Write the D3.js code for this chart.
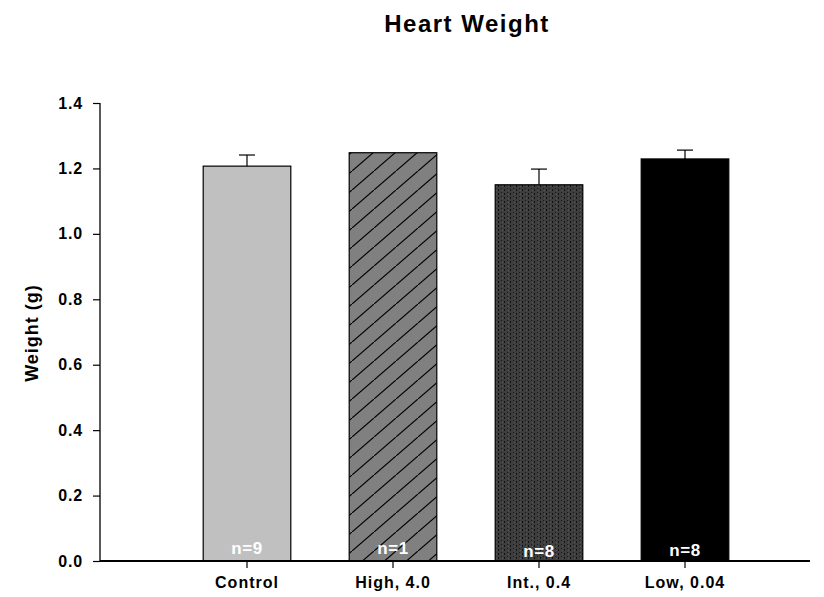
<!DOCTYPE html>
<html>
<head>
<meta charset="utf-8">
<script src="https://cdn.jsdelivr.net/npm/d3@7"></script>
<style>
  body { margin: 0; background: #fff; }
  text { font-family: "Liberation Sans", Arial, sans-serif; font-weight: bold; }
</style>
</head>
<body>
<svg width="824" height="597"></svg>
<script>
// data
let groups = ["Control", "High, 4.0", "Int., 0.4", "Low, 0.04"];
let means = [1.207, 1.248, 1.150, 1.229];
let errs = [0.034, 0, 0.048, 0.027];
let nLabels = ["n=9", "n=1", "n=8", "n=8"];
let yTicks = [0.0, 0.2, 0.4, 0.6, 0.8, 1.0, 1.2, 1.4];

let svg = d3.select("svg");

// patterns for the bar fills
let defs = svg.append("defs");
let hatch = defs.append("pattern")
  .attr("id", "hatch")
  .attr("patternUnits", "userSpaceOnUse")
  .attr("width", 22).attr("height", 19);
hatch.append("rect").attr("width", 22).attr("height", 19).attr("fill", "#808080");
hatch.append("line")
  .attr("x1", -2).attr("y1", 19 + 1.7).attr("x2", 24).attr("y2", -1.7)
  .attr("stroke", "#000").attr("stroke-width", 1.2);

let dots = defs.append("pattern")
  .attr("id", "dots")
  .attr("patternUnits", "userSpaceOnUse")
  .attr("width", 6).attr("height", 4);
dots.append("rect").attr("width", 6).attr("height", 4).attr("fill", "#3e3e3e");
dots.append("rect").attr("x", 0).attr("y", 1).attr("width", 1).attr("height", 2).attr("fill", "#111");
dots.append("rect").attr("x", 3).attr("y", 0).attr("width", 1).attr("height", 1).attr("fill", "#1a1a1a");
dots.append("rect").attr("x", 4).attr("y", 2).attr("width", 1).attr("height", 1).attr("fill", "#5a5a5a");

let fills = ["#c0c0c0", "url(#hatch)", "url(#dots)", "#000"];

// scales
let x = d3.scaleBand()
  .domain(groups)
  .range([174, 758])
  .paddingInner(0.4)
  .paddingOuter(0.2);

let y = d3.scaleLinear()
  .domain([0, 1.4])
  .range([561, 103]);

// title
svg.append("text")
  .attr("x", 467).attr("y", 32)
  .attr("text-anchor", "middle")
  .style("font-size", "24px")
  .style("letter-spacing", "1.5px")
  .text("Heart Weight");

// bars
svg.selectAll(".bar")
  .data(groups)
  .enter().append("rect")
  .attr("class", "bar")
  .attr("x", d => x(d))
  .attr("width", x.bandwidth())
  .attr("y", (d, i) => y(means[i]))
  .attr("height", (d, i) => y(0) - y(means[i]))
  .attr("fill", (d, i) => fills[i])
  .attr("stroke", "#000")
  .attr("stroke-width", 1.2);

// error bars (upper only)
let eb = svg.selectAll(".err")
  .data(groups.filter((d, i) => errs[i] > 0))
  .enter().append("g")
  .attr("class", "err");
eb.append("line")
  .attr("x1", d => x(d) + x.bandwidth() / 2)
  .attr("x2", d => x(d) + x.bandwidth() / 2)
  .attr("y1", d => y(means[groups.indexOf(d)]))
  .attr("y2", d => { let i = groups.indexOf(d); return y(means[i] + errs[i]); })
  .attr("stroke", "#000").attr("stroke-width", 1.2);
eb.append("line")
  .attr("x1", d => x(d) + x.bandwidth() / 2 - 8)
  .attr("x2", d => x(d) + x.bandwidth() / 2 + 8)
  .attr("y1", d => { let i = groups.indexOf(d); return y(means[i] + errs[i]); })
  .attr("y2", d => { let i = groups.indexOf(d); return y(means[i] + errs[i]); })
  .attr("stroke", "#000").attr("stroke-width", 1.2);

// n labels inside bars
let nBase = [554, 554, 557, 556];
svg.selectAll(".nlab")
  .data(groups)
  .enter().append("text")
  .attr("class", "nlab")
  .attr("x", d => x(d) + x.bandwidth() / 2)
  .attr("y", (d, i) => nBase[i])
  .attr("text-anchor", "middle")
  .attr("fill", "#fff")
  .style("font-size", "17px")
  .style("letter-spacing", "0.5px")
  .text((d, i) => nLabels[i]);

// y axis
let yAxis = d3.axisLeft(y)
  .tickValues(yTicks)
  .tickFormat(d3.format(".1f"))
  .tickSize(7)
  .tickPadding(10);
let gy = svg.append("g")
  .attr("transform", "translate(100,0)")
  .call(yAxis);
gy.select(".domain").attr("d", `M0,${y(1.4)}V${y(0)}`).attr("stroke-width", 1.3);
gy.selectAll(".tick line").attr("stroke-width", 1.2);
gy.selectAll(".tick text")
  .style("font-size", "16px")
  .style("letter-spacing", "0.8px")
  .style("font-family", "'Liberation Sans', Arial, sans-serif")
  .style("font-weight", "bold");

// x axis
let xAxis = d3.axisBottom(x)
  .tickSize(7)
  .tickPadding(9);
let gx = svg.append("g")
  .attr("transform", `translate(0,${y(0)})`)
  .call(xAxis);
gx.select(".domain").attr("d", "M100,0H810").attr("stroke-width", 2);
gx.selectAll(".tick line").attr("stroke-width", 1.2);
gx.selectAll(".tick text")
  .style("font-size", "16px")
  .style("letter-spacing", "1px")
  .style("font-family", "'Liberation Sans', Arial, sans-serif")
  .style("font-weight", "bold");

// y label
svg.append("text")
  .attr("transform", "translate(38,333) rotate(-90)")
  .attr("text-anchor", "middle")
  .style("font-size", "18px")
  .style("letter-spacing", "1px")
  .text("Weight (g)");
</script>
</body>
</html>
